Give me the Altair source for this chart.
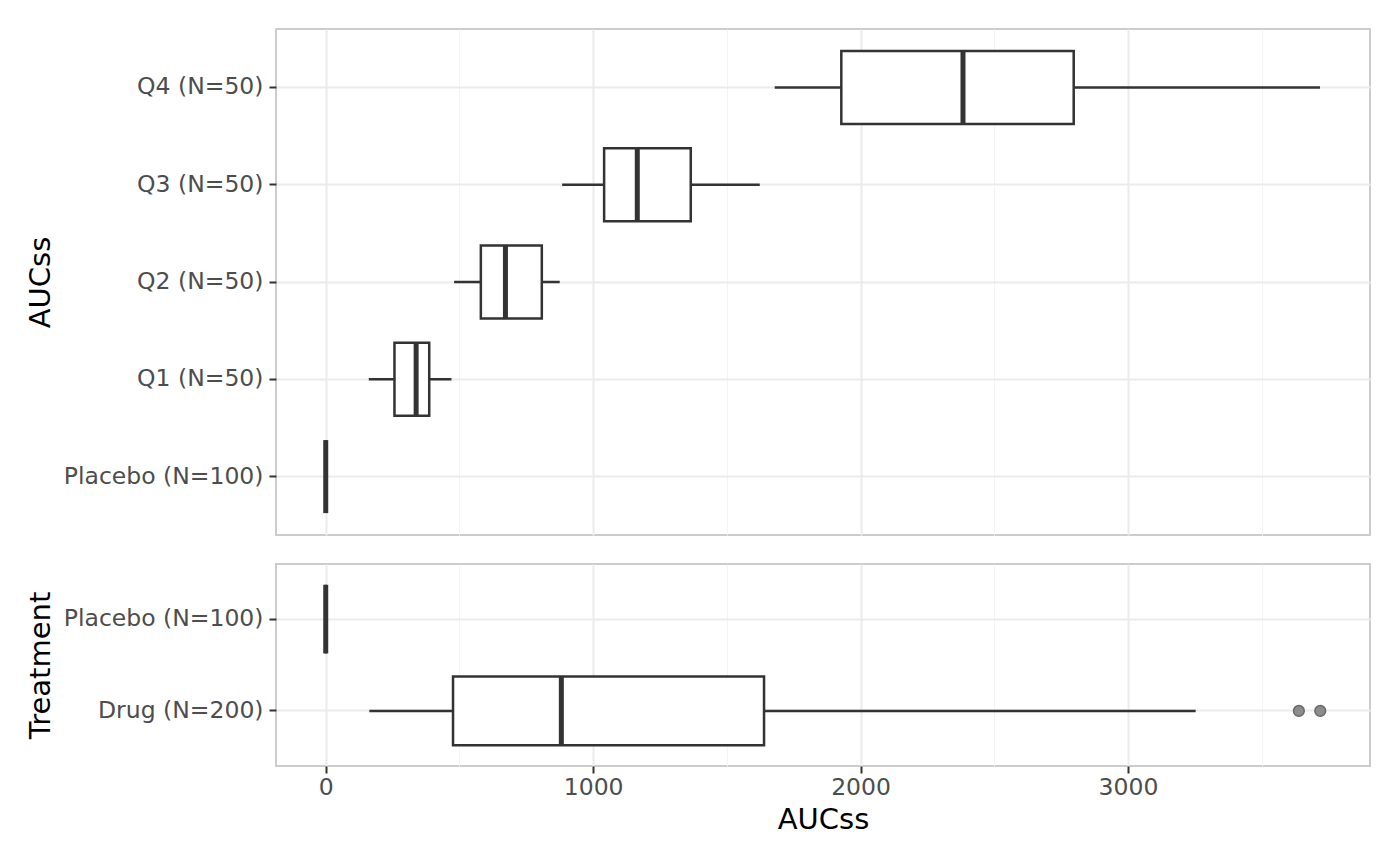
import altair as alt
import pandas as pd

# ---- data ----
top_groups = ["Q4 (N=50)", "Q3 (N=50)", "Q2 (N=50)", "Q1 (N=50)", "Placebo (N=100)"]
top_lower = [1679, 884, 480, 161, 0]
top_q1 = [1928, 1041, 580, 257, 0]
top_median = [2383, 1165, 672, 338, 0]
top_q3 = [2797, 1365, 808, 387, 0]
top_upper = [3718, 1623, 875, 470, 0]

bot_groups = ["Placebo (N=100)", "Drug (N=200)"]
bot_lower = [0, 163]
bot_q1 = [0, 476]
bot_median = [0, 881]
bot_q3 = [0, 1639]
bot_upper = [0, 3253]

outlier_group = ["Drug (N=200)", "Drug (N=200)"]
outlier_value = [3639, 3719]

x_domain = [-186, 3905]
x_ticks = [0, 500, 1000, 1500, 2000, 2500, 3000, 3500]

FONT = "DejaVu Sans"
DARK = "#333333"

top_df = pd.DataFrame({"g": top_groups, "lo": top_lower, "q1": top_q1,
                       "med": top_median, "q3": top_q3, "hi": top_upper})
bot_df = pd.DataFrame({"g": bot_groups, "lo": bot_lower, "q1": bot_q1,
                       "med": bot_median, "q3": bot_q3, "hi": bot_upper})
out_df = pd.DataFrame({"g": outlier_group, "v": outlier_value})

grid_color = {"condition": {"test": "datum.value % 1000 === 0", "value": "#EBEBEB"},
              "value": "#F4F4F4"}
grid_width = {"condition": {"test": "datum.value % 1000 === 0", "value": 2},
              "value": 1}
tick_opacity = {"condition": {"test": "datum.value % 1000 === 0", "value": 1},
                "value": 0}

x_axis_top = alt.Axis(values=x_ticks, labels=False, ticks=False, domain=False,
                      title=None, grid=True, gridColor=grid_color, gridWidth=grid_width)
x_axis_bot = alt.Axis(values=x_ticks, format="d", domain=False, title="AUCss",
                      grid=True, gridColor=grid_color, gridWidth=grid_width,
                      labelExpr="datum.value % 1000 === 0 ? datum.label : ''",
                      tickOpacity=tick_opacity, tickColor=DARK, tickSize=7, tickWidth=2,
                      labelPadding=2, titlePadding=7)


def panel(df, groups, ytitle, xaxis, height, band_px, outliers=None):
    yscale = alt.Scale(domain=groups, paddingInner=0.25, paddingOuter=0.225)
    xscale = alt.Scale(domain=x_domain, nice=False, zero=False)
    y = alt.Y("g:N", sort=groups, scale=yscale,
              axis=alt.Axis(title=ytitle, grid=True, gridColor="#EBEBEB", gridWidth=2,
                            domain=False, tickColor=DARK, tickSize=7, tickWidth=2,
                            labelPadding=6, titlePadding=21, labelLimit=0))
    base = alt.Chart(df)
    whisk = base.mark_rule(color=DARK, strokeWidth=2.5).encode(
        x=alt.X("lo:Q", scale=xscale, axis=xaxis), x2="hi:Q", y=y)
    box = base.mark_bar(fill="white", stroke=DARK, strokeWidth=2.5).encode(
        x=alt.X("q1:Q", scale=xscale), x2="q3:Q", y=y)
    med = base.mark_tick(color=DARK, thickness=5, size=band_px, opacity=1).encode(
        x=alt.X("med:Q", scale=xscale), y=y)
    layers = [whisk, box, med]
    if outliers is not None:
        pts = alt.Chart(outliers).mark_point(filled=True, fill="#8C8C8C", stroke="#6A6A6A",
                                             strokeWidth=1.5, size=115, opacity=1).encode(
            x=alt.X("v:Q", scale=xscale), y=y)
        layers.append(pts)
    return alt.layer(*layers).properties(width=1094, height=height)


top = panel(top_df, top_groups, "AUCss", x_axis_top, 506, 73)
bot = panel(bot_df, bot_groups, "Treatment", x_axis_bot, 202, 68.6, outliers=out_df)

chart = alt.vconcat(top, bot, spacing=27).properties(
    padding={"left": 17, "top": 20, "right": 5, "bottom": 5}
).configure(
    font=FONT
).configure_view(
    stroke="#CCCCCC", strokeWidth=2
).configure_axis(
    labelFont=FONT, titleFont=FONT, labelFontSize=23.5, titleFontSize=29,
    labelColor="#4D4D4D", titleColor="#000000", titleFontWeight="normal"
)

chart.save("out.html", embed_options={"renderer": "svg", "actions": False})
